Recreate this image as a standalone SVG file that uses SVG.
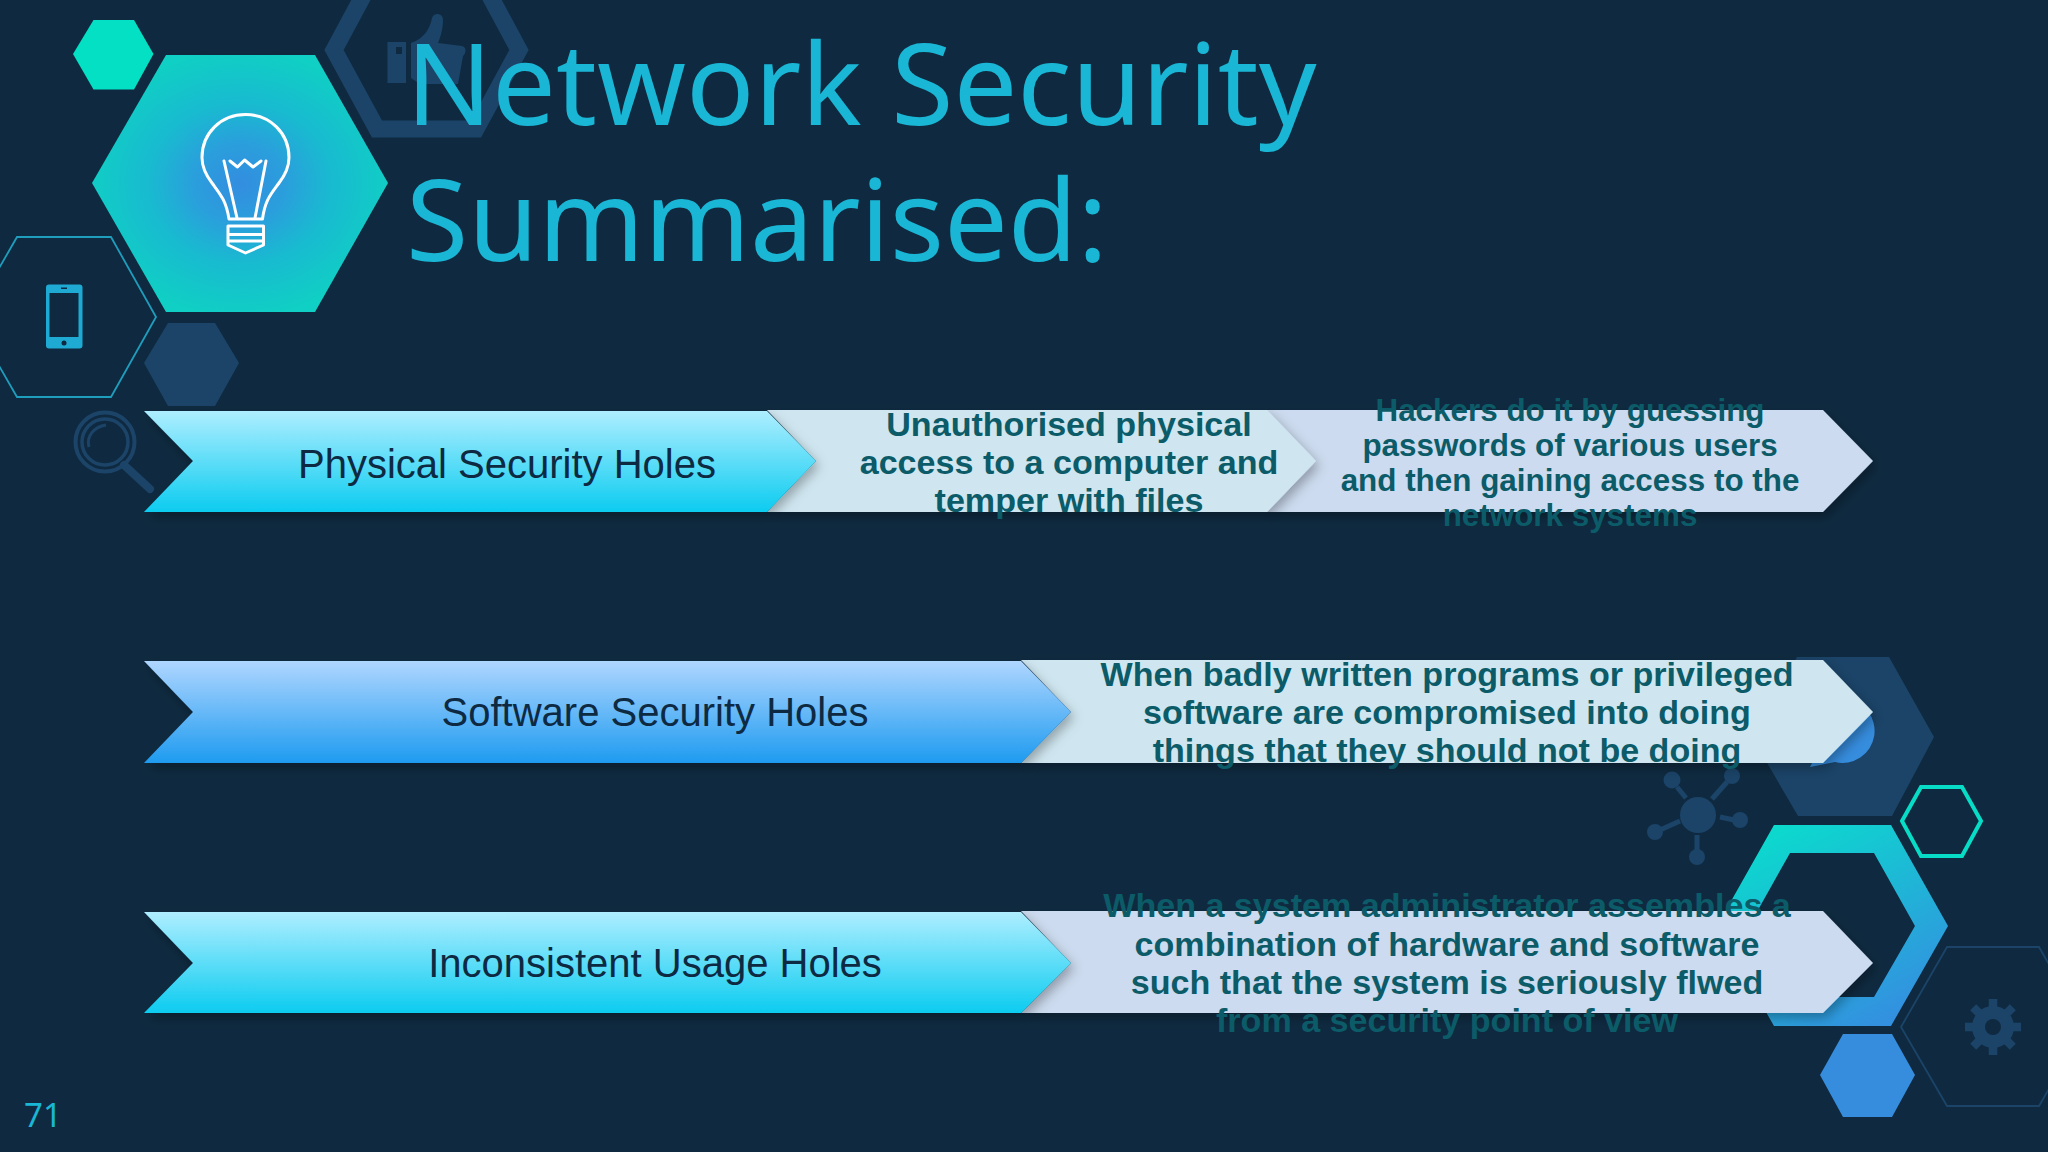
<svg xmlns="http://www.w3.org/2000/svg" width="2048" height="1152" viewBox="0 0 2048 1152">
<style>
.t{font-family:"Noto Sans","Open Sans",sans-serif;fill:#1ab6d6;font-size:113.300px}
.l{font-family:"Liberation Sans",Arial,sans-serif;fill:#0d2a42;font-size:40px;text-anchor:middle}
.b{font-family:"Liberation Sans",Arial,sans-serif;fill:#0c5b68;font-size:34.100px;font-weight:bold;text-anchor:middle}
.d{fill:#1b4468}
.w{fill:none;stroke:#fff;stroke-width:3;stroke-linejoin:round;stroke-linecap:round}
.n{stroke:#1b4468;stroke-width:5;fill:none}
.sh{filter:url(#s)}
</style>
<defs>
<radialGradient id="hg" cx="50%" cy="50%" r="52%"><stop offset="0" stop-color="#338de0"/><stop offset="0.3" stop-color="#2a9fdc"/><stop offset="0.6" stop-color="#18bbd0"/><stop offset="1" stop-color="#10cfc4"/></radialGradient>
<linearGradient id="rg" x1="0.1" y1="0" x2="0.7" y2="1"><stop offset="0" stop-color="#08e0cc"/><stop offset="1" stop-color="#3390e0"/></linearGradient>
<linearGradient id="a1" x1="0" y1="0" x2="0" y2="1"><stop offset="0" stop-color="#aeeeff"/><stop offset="1" stop-color="#0cccf0"/></linearGradient>
<linearGradient id="a2" x1="0" y1="0" x2="0" y2="1"><stop offset="0" stop-color="#afd6ff"/><stop offset="1" stop-color="#1e9bf0"/></linearGradient>
<filter id="s" x="-5%" y="-20%" width="110%" height="150%"><feDropShadow dx="3" dy="5" stdDeviation="6" flood-color="#000" flood-opacity="0.3"/></filter>
</defs>
<rect width="2048" height="1152" fill="#0f2a40"/>
<g id="decor-left">
<polygon id="hex-thumb" points="334,50 377,-30 476,-30 519,50 476,129 377,129" fill="none" stroke="#1b4468" stroke-width="17"/>
<g id="thumb" class="d"><path fill-rule="evenodd" d="M387.500,42H406V83H387.500ZM396,47v7h6v-7Z"/><path d="M411,43C425,38 430,28 432,18C434,12 443,13 443,20C443,30 440,38 438,43L462,46C467,47 466,54 463,56L458,84H420L411,78Z"/></g>
<polygon id="hex-teal" points="73,54 93.500,20 134,20 153.500,54 134,89.500 93.500,89.500" fill="#03e0c4"/>
<polygon id="hex-main" points="92,183 166,55 315,55 388,183 315,312 166,312" fill="url(#hg)"/>
<g id="bulb">
<path class="w" d="M229,219C226,200 220,194 212,183C205,174 202,167 202,157.500C202,133 221,114.500 245.500,114.500C270,114.500 289,133 289,157.500C289,167 286,174 279,183C271,194 265,200 262.500,219Z"/>
<path class="w" d="M224,161L237,218M266,161L255,218M230,161L237.500,167L244.600,160L253,167L261,161"/>
<path class="w" d="M228,226H263.500V245L245.500,253L228,245ZM228,234.500H263.500M228,241H263.500"/>
</g>
<polygon id="hex-outline" points="17,237 111,237 156,317 111,397 17,397 -29,317" fill="none" stroke="#1f9dbd" stroke-width="1.800"/>
<g id="phone"><rect x="46" y="284.500" width="36.500" height="64" rx="3" fill="#1eaad2"/><rect x="49.500" y="293" width="29" height="44" fill="#0f2a40"/><circle cx="64" cy="343" r="2.500" fill="#0f2a40"/><rect x="61" y="287.500" width="6" height="1.500" fill="#0f2a40"/></g>
<polygon id="hex-dark" points="144,363 168,323 215,323 239,363 215,406 168,406" fill="#1b4468"/>
<g id="magnifier" fill="none" stroke="#1b4468">
<circle cx="105" cy="442" r="29.500" stroke-width="4"/><circle cx="105" cy="442" r="23" stroke-width="3.500"/>
<path d="M89,447C86,436 94,427 106,425" stroke-width="3"/>
<path d="M124,465L150,489" stroke-width="8" stroke-linecap="round"/></g>
</g>
<g id="decor-right">
<polygon id="hex-right-dark" points="1752,737 1797,657 1889,657 1934,737 1892,816 1798,816" fill="#1b4468"/>
<path id="bubble" d="M1845,699A32,32 0 1 1 1835,762L1810,767Z" fill="#368dde"/>
<g id="network" class="d">
<circle cx="1698" cy="815" r="18"/><circle cx="1672" cy="780" r="8.500"/><circle cx="1732" cy="776" r="8"/><circle cx="1740" cy="820" r="8"/><circle cx="1697" cy="857" r="8"/><circle cx="1655" cy="832" r="8"/>
<path class="n" d="M1677,787L1686,798M1727,782L1712,799M1720,817L1734,820M1697,835V855M1660,830L1680,821"/>
</g>
<path id="hex-ring" fill-rule="evenodd" fill="url(#rg)" d="M1774,825H1891L1948,926L1891,1026H1774L1717,926ZM1790,853L1749,926L1790,997H1874L1915,926L1874,853Z"/>
<polygon id="hex-teal-outline" points="1902,821 1921,787 1962,787 1981,821 1962,856 1921,856" fill="none" stroke="#07dcc6" stroke-width="4"/>
<polygon id="hex-gear" points="1901,1027 1947,947 2039,947 2085,1027 2039,1106 1947,1106" fill="none" stroke="#1b4468" stroke-width="1.800"/>
<g id="gear"><circle cx="1993" cy="1027" r="14.500" fill="none" stroke="#1b4468" stroke-width="13"/><path stroke="#1b4468" stroke-width="8.500" d="M1993,999V1055M1965,1027H2021M1973.200,1007.200L2012.800,1046.800M1973.200,1046.800L2012.800,1007.200"/><circle cx="1993" cy="1027" r="8" fill="#0f2a40"/></g>
<polygon id="hex-blue" points="1820,1075 1843,1034 1892,1034 1915,1075 1892,1117 1843,1117" fill="#368dde"/>
</g>
<g id="connectors">
<polygon class="sh" points="1265,410 1823,410 1873,461 1823,512 1265,512 1315,461" fill="#ccdbef"/>
<polygon class="sh" points="767,410 1267,410 1316,461 1267,512 767,512 816,461" fill="#cfe6f0"/>
<polygon class="sh" points="144,411 767,411 816,461 767,512 144,512 193,461" fill="url(#a1)"/>
<polygon class="sh" points="1021,660 1823,660 1873,712 1823,763 1021,763 1071,712" fill="#cfe6f0"/>
<polygon class="sh" points="144,661 1021,661 1071,712 1021,763 144,763 193,712" fill="url(#a2)"/>
<polygon class="sh" points="1021,911 1823,911 1873,963 1823,1013 1021,1013 1071,963" fill="#ccdbef"/>
<polygon class="sh" points="144,912 1021,912 1071,963 1021,1013 144,1013 193,963" fill="url(#a1)"/>
</g>
<g id="title"><text class="t" x="406" y="125">Network Security</text><text class="t" x="406" y="261">Summarised:</text></g>
<text id="page" x="24" y="1127" font-family="Noto Sans" font-size="33" fill="#1ab6d6">71</text>
<g id="row1">
<text class="l" x="507" y="478">Physical Security Holes</text>
<g class="b"><text x="1069" y="436">Unauthorised physical</text><text x="1069" y="474">access to a computer and</text><text x="1069" y="512">temper with files</text></g>
<g class="b" style="font-size:31.400px"><text x="1570" y="421">Hackers do it by guessing</text><text x="1570" y="456">passwords of various users</text><text x="1570" y="491">and then gaining access to the</text><text x="1570" y="526">network systems</text></g>
</g>
<g id="row2">
<text class="l" x="655" y="726">Software Security Holes</text>
<g class="b"><text x="1447" y="686">When badly written programs or privileged</text><text x="1447" y="724">software are compromised into doing</text><text x="1447" y="762">things that they should not be doing</text></g>
</g>
<g id="row3">
<text class="l" x="655" y="977">Inconsistent Usage Holes</text>
<g class="b"><text x="1447" y="917">When a system administrator assembles a</text><text x="1447" y="956">combination of hardware and software</text><text x="1447" y="994">such that the system is seriously flwed</text><text x="1447" y="1032">from a security point of view</text></g>
</g>
</svg>
